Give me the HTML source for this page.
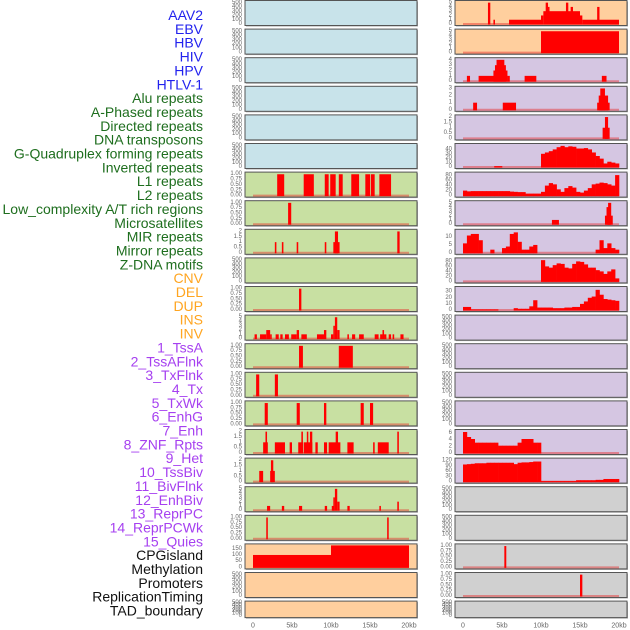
<!DOCTYPE html>
<html><head><meta charset="utf-8"><style>
html,body{margin:0;padding:0;background:#fff;width:630px;height:630px;overflow:hidden}
svg{display:block;font-family:"Liberation Sans",sans-serif}
</style></head><body>
<svg id="chart" width="630" height="630" viewBox="0 0 630 630"></svg>
<script>
// ---- data ----
const labels = ["AAV2","EBV","HBV","HIV","HPV","HTLV-1","Alu repeats","A-Phased repeats","Directed repeats","DNA transposons","G-Quadruplex forming repeats","Inverted repeats","L1 repeats","L2 repeats","Low_complexity A/T rich regions","Microsatellites","MIR repeats","Mirror repeats","Z-DNA motifs","CNV","DEL","DUP","INS","INV","1_TssA","2_TssAFlnk","3_TxFlnk","4_Tx","5_TxWk","6_EnhG","7_Enh","8_ZNF_Rpts","9_Het","10_TssBiv","11_BivFlnk","12_EnhBiv","13_ReprPC","14_ReprPCWk","15_Quies","CPGisland","Methylation","Promoters","ReplicationTiming","TAD_boundary"];
const labelColors = ["#2222ee","#2222ee","#2222ee","#2222ee","#2222ee","#2222ee","#1e6e1e","#1e6e1e","#1e6e1e","#1e6e1e","#1e6e1e","#1e6e1e","#1e6e1e","#1e6e1e","#1e6e1e","#1e6e1e","#1e6e1e","#1e6e1e","#1e6e1e","#ffa520","#ffa520","#ffa520","#ffa520","#ffa520","#a640f0","#a640f0","#a640f0","#a640f0","#a640f0","#a640f0","#a640f0","#a640f0","#a640f0","#a640f0","#a640f0","#a640f0","#a640f0","#a640f0","#a640f0","#111","#111","#111","#111","#111"];
const xTicks = [0,5,10,15,20];
const xTickLabels = ["0","5kb","10kb","15kb","20kb"];
const emptyTicks = [0,100,200,300,400,500];
const unitTicks = [0,0.25,0.5,0.75,1];
// segment data: [startKb, endKb, value]
const L6 = [[3.1,4.0,1],[6.5,7.8,1],[9.2,9.7,1],[9.9,10.6,1],[11.0,11.5,1],[12.6,13.6,1],[14.4,15.0,1],[15.1,15.6,1],[16.2,17.7,1]];
const L7 = [[4.5,4.9,1]];
const L8 = [[2.8,3.0,1],[3.7,3.9,1],[5.6,5.8,1],[9.2,9.4,1],[10.3,11.1,1],[10.5,10.9,2],[18.5,18.8,2]];
const L10 = [[5.9,6.2,1]];
const L11 = [[0.2,0.5,1],[0.9,1.7,1],[1.7,2.2,2],[2.2,2.4,1],[2.9,3.3,1],[3.5,3.8,1],[4.1,4.6,1],[4.9,5.6,1],[5.6,5.9,2],[6.2,6.9,1],[8.2,9.1,1],[9.1,9.4,2],[10.0,10.3,1],[10.3,10.5,3],[10.5,10.8,5],[10.8,11.1,2],[12.1,12.3,1],[12.7,13.1,1],[13.6,14.2,1],[15.6,16.1,1],[16.3,16.6,1],[16.6,16.8,2],[16.8,17.1,1],[17.4,17.7,1],[17.9,18.1,1],[18.9,19.3,1]];
const L12 = [[5.9,6.4,1],[11.0,12.8,1]];
const L13 = [[0.4,0.8,1],[2.8,3.2,1]];
const L14 = [[1.5,1.9,1],[5.6,6.0,1],[9.1,9.4,1],[13.8,14.2,1],[15.0,15.4,1]];
const L15 = [[1.3,1.9,1],[1.6,1.8,2],[2.8,4.1,1],[4.7,5.0,1],[5.8,6.4,1],[6.2,6.4,2],[6.5,7.6,1],[6.9,7.0,2],[7.3,7.6,2],[8.0,8.3,1],[9.1,9.5,1],[9.7,11.2,1],[10.6,10.9,2],[12.1,12.9,1],[15.4,15.6,1],[16.0,17.4,1],[18.5,18.7,2]];
const L16 = [[0.8,1.3,1],[2.2,2.8,1],[2.3,2.6,2]];
const L17 = [[1.8,2.2,1],[3.7,4.0,1],[5.9,6.3,1],[9.2,9.5,1],[10.1,10.4,1],[10.3,10.5,3],[10.5,10.8,5],[10.8,11.1,2],[12.1,12.4,1],[16.2,16.4,1],[18.5,18.7,2]];
const L18 = [[1.7,1.9,1],[17.2,17.4,1]];
const L19 = [[0,10,100],[10,20,185]];
const R0 = [[3.2,3.5,5],[3.9,4.1,1],[5.9,10.0,1],[10.0,10.3,2],[10.3,15.0,3],[10.6,10.9,5],[10.9,11.0,4],[13.2,13.5,5],[13.8,14.1,4],[15.0,15.3,2],[15.3,20,1],[17.2,17.5,4]];
const R1 = [[10.0,20,5]];
const R2 = [[0.5,0.9,1],[2.0,4.1,1],[3.9,4.3,2],[4.1,5.5,3],[4.3,5.3,4],[5.3,5.7,2],[5.7,6.0,1],[7.9,9.4,1],[17.8,18.4,1]];
const R3 = [[1.3,1.8,1],[5.1,6.8,1],[17.2,18.8,1],[17.4,18.6,2],[17.6,18.2,3]];
const R4 = [[17.9,18.8,1],[18.2,18.6,2]];
const R7 = [[11.4,12.3,1],[18.2,19.2,2],[18.4,18.9,4],[18.6,19.0,5]];
const R19 = [[5.3,5.55,1]];
const R20 = [[15.0,15.3,1]];
// binned data: 0.5kb bins from 0 to 20kb
const R5 = [0,0,0,0,0,0,0,0,2,2,0,0,0,0,0,0,0,0,0,0,30,33,36,40,45,48,45,47,46,42,42,43,40,33,25,19,15,10,7,6];
const R5tail = [8,12,10,8];
const R6 = [20,17,18,18,18,18,18,18,18,18,18,18,16,15,14,14,8,8,8,8,15,40,50,45,25,15,30,38,32,15,12,20,30,45,48,52,50,45,40,82];
const R8 = [6,11,12,12,8,0,0,2,0,0,3,4,12,13,7,2,2,4,5,0,0,0,0,0,0,0,0,0,0,0,0,0,0,0,2,8,3,6,3,2];
const R9 = [0,0,0,0,0,0,0,0,0,0,0,0,0,0,0,0,0,0,0,0,85,60,55,65,72,70,55,52,70,80,78,68,55,55,45,40,30,40,48,12];
const R10 = [5,5,1,1,1,1,1,1,1,0,0,0,0,3,2,2,2,6,16,4,4,4,4,3,3,3,4,4,5,5,10,14,20,22,33,25,18,17,16,15];
const R15 = [6.3,4.8,4.2,3.1,3.1,3.1,3.1,3.1,3.1,2.2,2.2,2.2,2.2,2.2,3.1,4.2,4.2,4.2,3.1,3.1,0,0,0,0,0,0,0,0,0,0,0,0,0,0,0,0,0,0,0,0];
const R16 = [98,100,102,105,105,105,108,108,108,108,108,108,108,100,108,110,110,112,115,115,3,3,3,3,3,3,3,3,3,8,8,8,8,8,10,10,15,15,15,15];

// ---- panel config (left col 0, right col 1) ----
const panels = [];
function P(col,row,bg,ticks,ymax,segs,bins,line){panels.push({col,row,bg,ticks,ymax,segs,bins,line});}
const BLUE="#c8e3ea",GREEN="#c8e0a2",ORANGE="#ffcf9e",PURPLE="#d5c6e2",GRAY="#d0d0d0";
for(let r=0;r<6;r++) P(0,r,BLUE,emptyTicks,520,null,null,false);
P(0,6,GREEN,unitTicks,1.03,L6,null,true);
P(0,7,GREEN,unitTicks,1.03,L7,null,true);
P(0,8,GREEN,[0,0.5,1,1.5,2],2.06,L8,null,true);
P(0,9,GREEN,emptyTicks,520,null,null,false);
P(0,10,GREEN,unitTicks,1.03,L10,null,true);
P(0,11,GREEN,[0,1,2,3,4,5],5.15,L11,null,true);
P(0,12,GREEN,unitTicks,1.03,L12,null,true);
P(0,13,GREEN,unitTicks,1.03,L13,null,true);
P(0,14,GREEN,unitTicks,1.03,L14,null,true);
P(0,15,GREEN,[0,0.5,1,1.5,2],2.06,L15,null,true);
P(0,16,GREEN,[0,0.5,1,1.5,2],2.06,L16,null,true);
P(0,17,GREEN,[0,1,2,3,4,5],5.15,L17,null,true);
P(0,18,GREEN,unitTicks,1.03,L18,null,true);
P(0,19,ORANGE,[0,50,100,150],177,L19,null,false);
P(0,20,ORANGE,emptyTicks,520,null,null,false);
P(0,21,ORANGE,emptyTicks,520,null,null,false);
P(1,0,ORANGE,[0,1,2,3,4,5],5.15,R0,null,true);
P(1,1,ORANGE,[0,1,2,3,4,5],5.15,R1,null,true);
P(1,2,PURPLE,[0,1,2,3,4],4.12,R2,null,true);
P(1,3,PURPLE,[0,1,2,3],3.09,R3,null,true);
P(1,4,PURPLE,[0,0.5,1,1.5,2],2.06,R4,null,true);
P(1,5,PURPLE,[0,10,20,30,40],50,null,R5.slice(0,36).concat(R5tail),true);
P(1,6,PURPLE,[0,20,40,60,80],88,null,R6,true);
P(1,7,PURPLE,[0,1,2,3,4,5],5.15,R7,null,true);
P(1,8,PURPLE,[0,5,10],14,null,R8,true);
P(1,9,PURPLE,[0,20,40,60,80],88,null,R9,true);
P(1,10,PURPLE,[0,10,20,30],36,null,R10,true);
for(let r=11;r<15;r++) P(1,r,PURPLE,emptyTicks,520,null,null,false);
P(1,15,PURPLE,[0,2,4,6],6.6,null,R15,true);
P(1,16,PURPLE,[0,30,60,90,120],126,null,R16,true);
P(1,17,GRAY,emptyTicks,520,null,null,false);
P(1,18,GRAY,emptyTicks,520,null,null,false);
P(1,19,GRAY,unitTicks,1.03,R19,null,true);
P(1,20,GRAY,unitTicks,1.03,R20,null,true);
P(1,21,GRAY,emptyTicks,520,null,null,false);

// ---- drawing ----
const NS="http://www.w3.org/2000/svg";
const svg=document.getElementById('chart');
function mk(tag,attrs,parent){const e=document.createElementNS(NS,tag);for(const k in attrs)e.setAttribute(k,attrs[k]);(parent||svg).appendChild(e);return e;}
const colX=[245,455], colW=172;
function rowTop(r){return 0.5+r*28.6;}
function rowH(r){return r===21?16.5:25;}
function xScale(col,kb){return colX[col]+8+kb/20*156;}

labels.forEach((t,i)=>{
  const e=mk('text',{x:203,y:15+i*13.85,'text-anchor':'end','dominant-baseline':'central','font-size':14,fill:labelColors[i]});
  e.textContent=t;
  
  
});

panels.forEach(p=>{
  const x0=colX[p.col], top=rowTop(p.row), h=rowH(p.row), bottom=top+h;
  const g=mk('g',{});
  
  
  const y0=bottom-1.5, y1=top+1.5;
  const ys=v=>y0-Math.min(v,p.ymax)/p.ymax*(y0-y1);
  mk('rect',{x:x0+1,y:top+1,width:colW,height:h,fill:'#aaa'},g);
  const bgRect=mk('rect',{x:x0,y:top,width:colW,height:h,fill:p.bg,stroke:'#555','stroke-width':1},g);
  
  
  if(p.line){
    const ln=mk('line',{x1:xScale(p.col,0),x2:xScale(p.col,20),y1:y0,y2:y0,stroke:'rgba(230,40,40,0.45)','stroke-width':2},g);
    
    
  }
  if(p.segs){
    p.segs.forEach(s=>{
      const xa=xScale(p.col,s[0]), xb=xScale(p.col,s[1]);
      const r=mk('rect',{x:xa,y:ys(s[2]),width:Math.max(1.5,xb-xa),height:y0-ys(s[2])+0.5,fill:'#ff0000'},g);
      
      
    });
  }
  if(p.bins){
    p.bins.forEach((v,i)=>{
      if(v<=0)return;
      const xa=xScale(p.col,i*0.5), xb=xScale(p.col,(i+1)*0.5);
      const r=mk('rect',{x:xa,y:ys(v),width:xb-xa+0.3,height:y0-ys(v)+0.5,fill:'#ff0000'},g);
      
      
    });
  }
  p.ticks.forEach(t=>{
    const tx=mk('text',{x:x0-3,y:ys(t),'text-anchor':'end','dominant-baseline':'central','font-size':6,fill:'#666'},g);
    tx.textContent=(p.ticks===unitTicks)?t.toFixed(2):(Number.isInteger(t)?String(t):t.toFixed(1));
    
    
  });
});

[0,1].forEach(c=>{
  xTicks.forEach((k,i)=>{
    const t=mk('text',{x:xScale(c,k),y:626,'text-anchor':'middle','dominant-baseline':'central','font-size':7,fill:'#666'});
    t.textContent=xTickLabels[i];
    
    
  });
});
</script>
</body></html>
